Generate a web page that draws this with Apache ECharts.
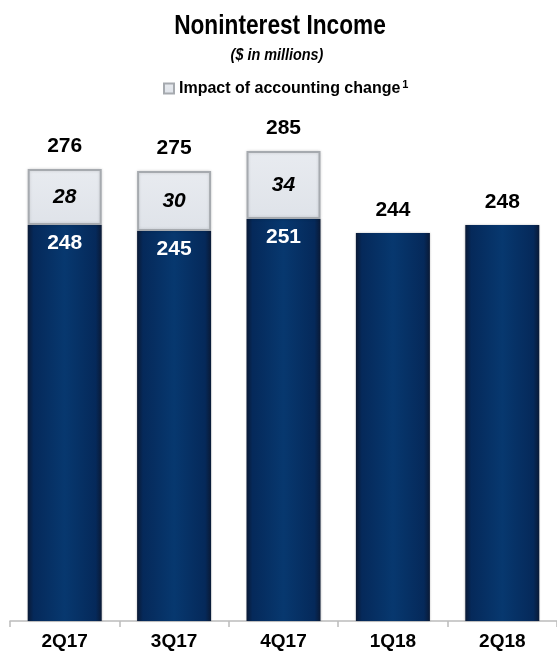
<!DOCTYPE html>
<html>
<head>
<meta charset="utf-8">
<script src="https://cdn.jsdelivr.net/npm/echarts@6/dist/echarts.min.js"></script>
<style>
  html, body { margin: 0; padding: 0; background: #ffffff; }
  #chart { width: 557px; height: 655px; }
</style>
</head>
<body>
<div id="chart"></div>
<script>
// Quarterly noninterest income ($ in millions)
const quarters = ['2Q17', '3Q17', '4Q17', '1Q18', '2Q18'];
const coreIncome = [248, 245, 251, 244, 248];
const accountingImpact = [28, 30, 34, null, null];
const totals = quarters.map((q, i) => coreIncome[i] + (accountingImpact[i] || 0));

const FONT = '"Liberation Sans", Arial, sans-serif';

const chart = echarts.init(document.getElementById('chart'), null, { renderer: 'canvas' });

const navyFill = new echarts.graphic.LinearGradient(0, 0, 1, 0, [
  { offset: 0, color: '#0a1a36' },
  { offset: 0.08, color: '#05295a' },
  { offset: 0.5, color: '#07386f' },
  { offset: 0.92, color: '#05295a' },
  { offset: 1, color: '#0a1a36' }
]);
const greyFill = new echarts.graphic.LinearGradient(0, 0, 0, 1, [
  { offset: 0, color: '#e8ebf0' },
  { offset: 1, color: '#dfe3e9' }
]);

chart.setOption({
  animation: false,
  backgroundColor: '#ffffff',
  graphic: [
    {
      // condensed heading
      type: 'text',
      x: 280,
      y: 12,
      scaleX: 0.81,
      style: {
        text: 'Noninterest Income',
        font: 'bold 28px "Liberation Sans", Arial, sans-serif',
        fill: '#000',
        textAlign: 'center',
        textVerticalAlign: 'top'
      }
    },
    {
      type: 'text',
      x: 277,
      y: 48,
      scaleX: 0.9,
      style: {
        text: '($ in millions)',
        font: 'italic bold 16px "Liberation Sans", Arial, sans-serif',
        fill: '#000',
        textAlign: 'center',
        textVerticalAlign: 'top'
      }
    }
  ],
  legend: {
    data: ['impact'],
    left: 163,
    top: 79,
    padding: 0,
    icon: 'rect',
    itemWidth: 10,
    itemHeight: 10,
    itemGap: 4,
    formatter: () => '{t|Impact of accounting change}{s|1}',
    textStyle: {
      rich: {
        t: { fontFamily: FONT, fontSize: 16, fontWeight: 'bold', color: '#000', padding: [0, 2, 0, 0] },
        s: { fontFamily: FONT, fontSize: 11, fontWeight: 'bold', color: '#000', verticalAlign: 'top', padding: [0, 0, 8, 0] }
      }
    }
  },
  grid: { left: 10, right: -4, top: 121, bottom: 34, containLabel: false },
  xAxis: {
    type: 'category',
    data: quarters,
    axisLine: { show: true, lineStyle: { color: '#bcbcbc', width: 1.5 } },
    axisTick: { show: true, length: 6, lineStyle: { color: '#bcbcbc', width: 1.5 } },
    axisLabel: { fontFamily: FONT, fontSize: 19, fontWeight: 'bold', color: '#000', margin: 11 }
  },
  yAxis: {
    type: 'value',
    min: 50,
    max: 300,
    show: false,
    splitLine: { show: false }
  },
  series: [
    {
      name: 'core',
      type: 'bar',
      stack: 'income',
      barWidth: 74,
      data: coreIncome.map((v, i) => ({
        value: v,
        label: { show: accountingImpact[i] != null }
      })),
      itemStyle: { color: navyFill, shadowBlur: 2, shadowColor: 'rgba(0,0,0,0.25)' },
      label: {
        position: 'insideTop',
        distance: 8,
        fontFamily: FONT,
        fontSize: 21,
        fontWeight: 'bold',
        color: '#ffffff'
      }
    },
    {
      name: 'impact',
      type: 'bar',
      stack: 'income',
      barWidth: 74,
      data: accountingImpact,
      itemStyle: {
        color: greyFill,
        borderColor: '#a6aaaf',
        borderWidth: 2,
        shadowBlur: 3,
        shadowColor: 'rgba(0,0,0,0.15)'
      },
      label: {
        show: true,
        position: 'inside',
        fontFamily: FONT,
        fontSize: 21,
        fontWeight: 'bold',
        fontStyle: 'italic',
        color: '#000'
      }
    },
    {
      name: 'total',
      type: 'scatter',
      data: totals,
      symbolSize: 0,
      silent: true,
      z: 5,
      itemStyle: { opacity: 1, color: '#000' },
      label: {
        show: true,
        position: 'top',
        distance: 12,
        fontFamily: FONT,
        fontSize: 21,
        fontWeight: 'bold',
        color: '#000',
        opacity: 1
      }
    }
  ]
});
</script>
</body>
</html>
